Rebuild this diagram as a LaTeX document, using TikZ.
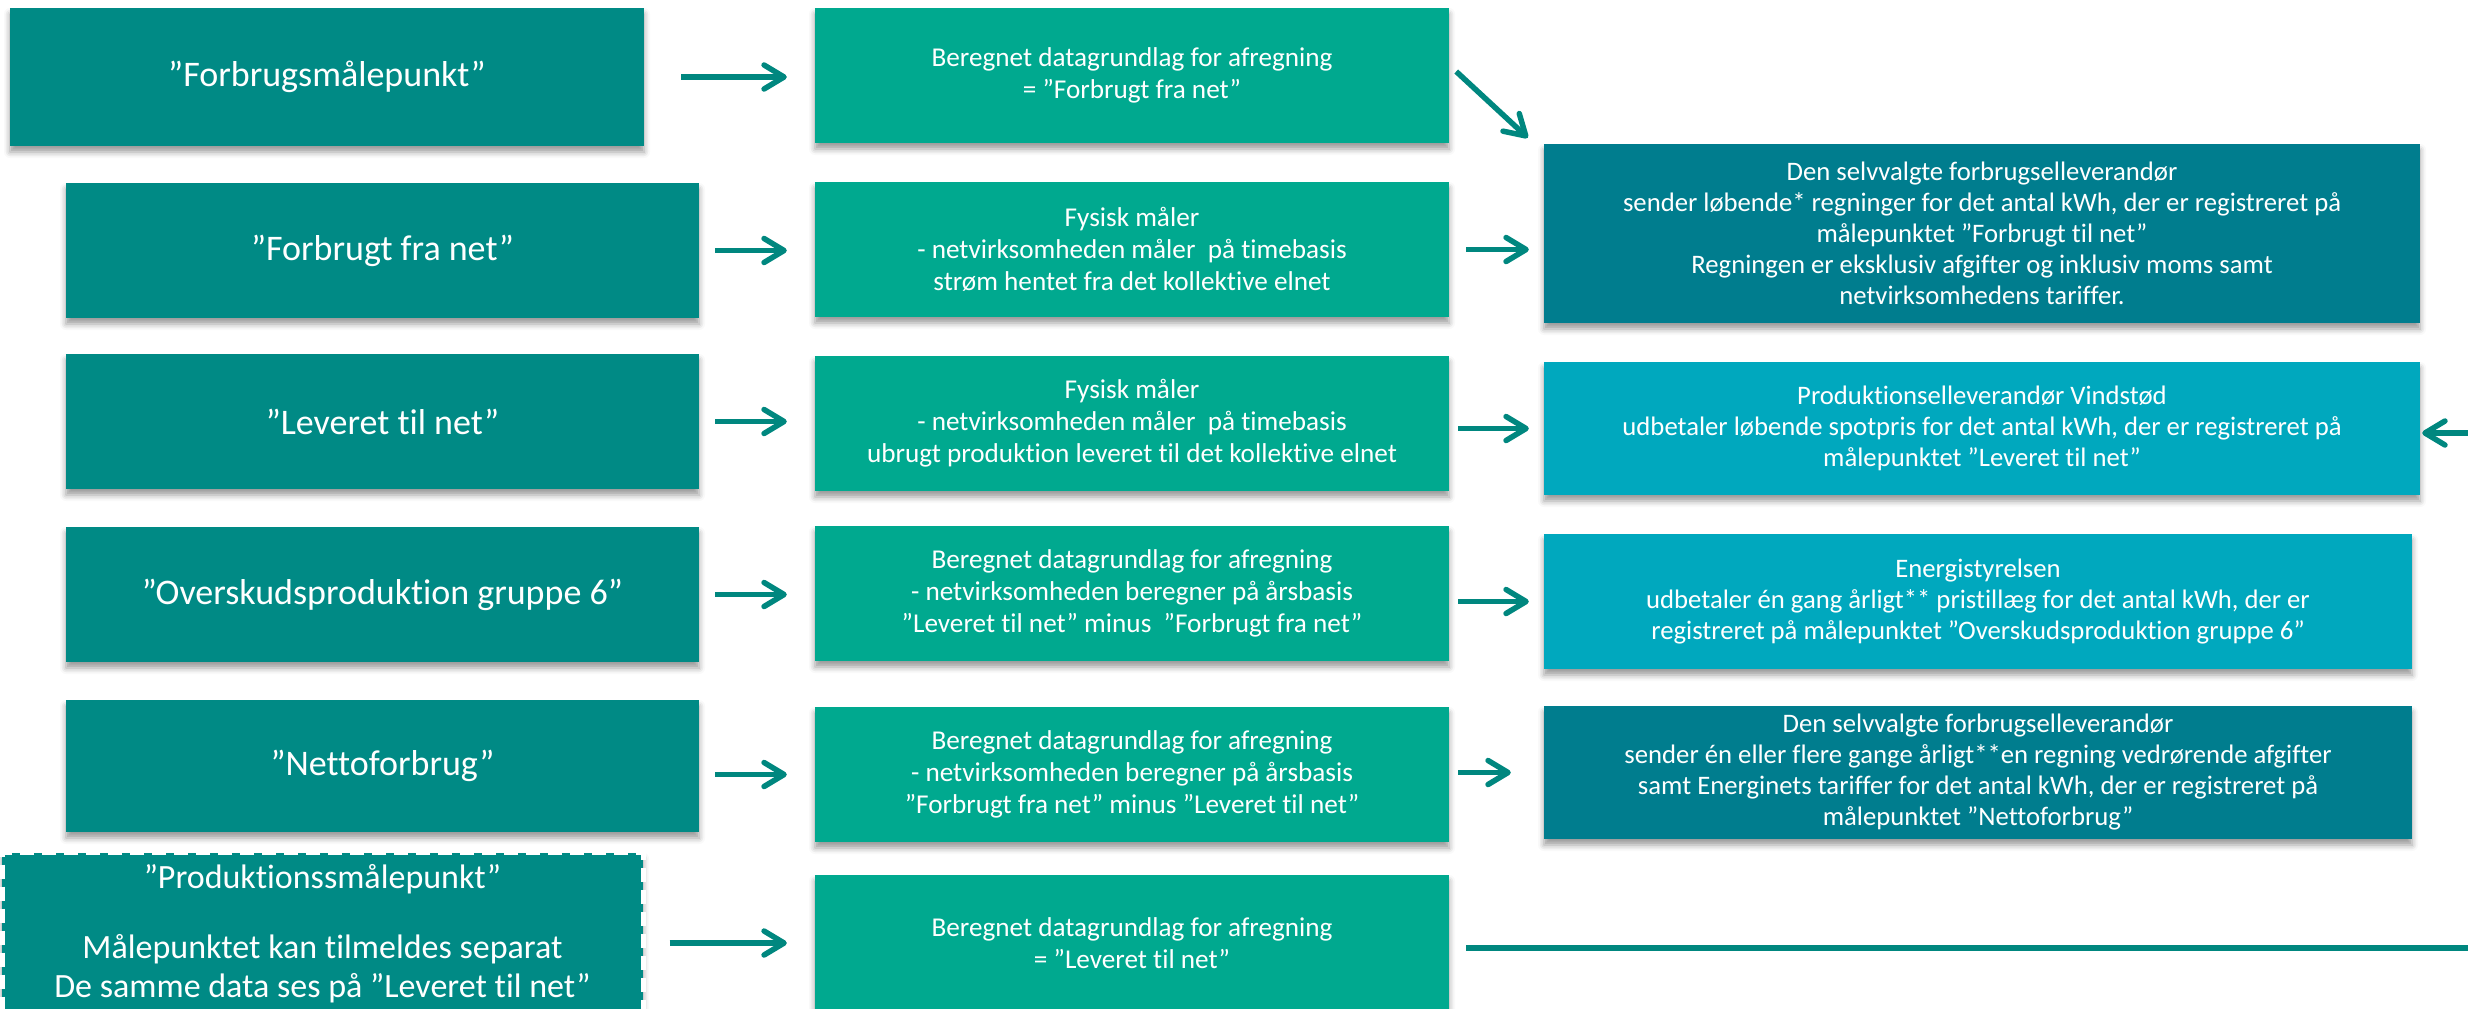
\documentclass[tikz,border=0pt]{standalone}
\usepackage{fontspec}
\setmainfont{Carlito}[Ligatures={NoCommon}]
\usetikzlibrary{arrows.meta,shadows.blur,calc}
\definecolor{cA}{HTML}{008A85}
\definecolor{cB}{HTML}{00A98F}
\definecolor{cCd}{HTML}{007D8E}
\definecolor{cCl}{HTML}{00A8BE}
\definecolor{cArr}{HTML}{00877F}
\begin{document}
\begin{tikzpicture}[x=1pt,y=-1pt,
  box/.style={rectangle, inner sep=0pt, text=white, align=center,
    blur shadow={shadow xshift=0pt, shadow yshift=-6pt, shadow blur radius=6pt, shadow opacity=40}},
  abox/.style={box, fill=cA, minimum width=633pt, minimum height=135pt, font=\fontsize{36}{43}\selectfont},
  bbox/.style={box, fill=cB, minimum width=634pt, minimum height=135pt, font=\fontsize{27.2}{32}\selectfont},
  cbox/.style={box, minimum height=133pt, font=\fontsize{26.7}{31}\selectfont},
  arr/.style={draw=cArr, line width=5.5pt, -{Straight Barb[length=20pt,width=24pt,round]}},
  plainline/.style={draw=cArr, line width=5.5pt}
]
\useasboundingbox (0,0) rectangle (2468,1009);

% column A
\node[abox, minimum width=634pt, minimum height=138pt] (A1) at (327,77) {”Forbrugsmålepunkt”};
\node[abox] (A2) at (382.5,250.5) {”Forbrugt fra net”};
\node[abox] (A3) at (382.5,421.5) {”Leveret til net”};
\node[abox] (A4) at (382.5,594.5) {”Overskudsproduktion gruppe 6”};
\node[abox, minimum height=132pt] (A5) at (382.5,766) {”Nettoforbrug”};
\node[box, fill=cA, draw=white, dashed, dash pattern=on 14pt off 8pt, line width=5pt,
  minimum width=641pt, minimum height=200pt, anchor=north, inner ysep=0pt,
  font=\fontsize{34}{39}\selectfont] (A6) at (322.5,850)
  {\rule{0pt}{36pt}”Produktionssmålepunkt”\\[31pt]Målepunktet kan tilmeldes separat\\De samme data ses på ”Leveret til net”\\[40pt]};

% column B
\node[bbox] (B1) at (1132,75.5) {Beregnet datagrundlag for afregning\\= ”Forbrugt fra net”};
\node[bbox] (B2) at (1132,249.5) {Fysisk måler\\- netvirksomheden måler\ \ på timebasis\\strøm hentet fra det kollektive elnet};
\node[bbox] (B3) at (1132,423.5) {Fysisk måler\\- netvirksomheden måler\ \ på timebasis\\ubrugt produktion leveret til det kollektive elnet};
\node[bbox] (B4) at (1132,593.5) {Beregnet datagrundlag for afregning\\- netvirksomheden beregner på årsbasis\\”Leveret til net” minus\ \ ”Forbrugt fra net”};
\node[bbox] (B5) at (1132,774.5) {Beregnet datagrundlag for afregning\\- netvirksomheden beregner på årsbasis\\”Forbrugt fra net” minus ”Leveret til net”};
\node[bbox, minimum height=136pt] (B6) at (1132,943) {Beregnet datagrundlag for afregning\\= ”Leveret til net”};

% column C
\node[cbox, fill=cCd, minimum width=876pt, minimum height=179pt] (C1) at (1982,233.5)
  {Den selvvalgte forbrugselleverandør\\sender løbende* regninger for det antal kWh, der er registreret på\\målepunktet ”Forbrugt til net”\\Regningen er eksklusiv afgifter og inklusiv moms samt\\netvirksomhedens tariffer.};
\node[cbox, fill=cCl, minimum width=876pt] (C2) at (1982,428.5)
  {Produktionselleverandør Vindstød\\udbetaler løbende spotpris for det antal kWh, der er registreret på\\målepunktet ”Leveret til net”};
\node[cbox, fill=cCl, minimum width=868pt, minimum height=135pt] (C3) at (1978,601.5)
  {Energistyrelsen\\udbetaler én gang årligt** pristillæg for det antal kWh, der er\\registreret på målepunktet ”Overskudsproduktion gruppe 6”};
\node[cbox, fill=cCd, minimum width=868pt] (C4) at (1978,772.5)
  {Den selvvalgte forbrugselleverandør\\sender én eller flere gange årligt**en regning vedrørende afgifter\\samt Energinets tariffer for det antal kWh, der er registreret på\\målepunktet ”Nettoforbrug”};

% free ends
\coordinate (inC2) at (2485,433);
\coordinate (end6) at (2485,948);

% connectors A -> B
\draw[arr, shorten <=37pt, shorten >=28pt] (A1.east) -- (A1.east -| B1.west);
\draw[arr, shorten <=16pt, shorten >=28pt] (A2.east) -- (A2.east -| B2.west);
\draw[arr, shorten <=16pt, shorten >=28pt] (A3.east) -- (A3.east -| B3.west);
\draw[arr, shorten <=16pt, shorten >=28pt] (A4.east) -- (A4.east -| B4.west);
\draw[arr, shorten <=16pt, shorten >=28pt] (A5.east |- B5.west) -- (B5.west);
\draw[arr, shorten <=24pt, shorten >=28pt] (A6.east |- B6.west) -- (B6.west);

% connectors B -> C
\draw[arr] ([shift={(7,-4)}]B1.east) -- ([shift={(-16,-6)}]C1.north west);
\draw[arr, shorten <=17pt, shorten >=15pt] (B2.east) -- (B2.east -| C1.west);
\draw[arr, shorten <=9pt, shorten >=15pt] (B3.east |- C2.west) -- (C2.west);
\draw[arr, shorten <=9pt, shorten >=15pt] (B4.east |- C3.west) -- (C3.west);
\draw[arr, shorten <=9pt, shorten >=33pt] (B5.east |- C4.west) -- (C4.west);
\draw[arr, shorten >=2pt] (inC2) -- (inC2 -| C2.east);
\draw[plainline, shorten <=17pt] (B6.east |- end6) -- (end6);
\end{tikzpicture}
\end{document}
